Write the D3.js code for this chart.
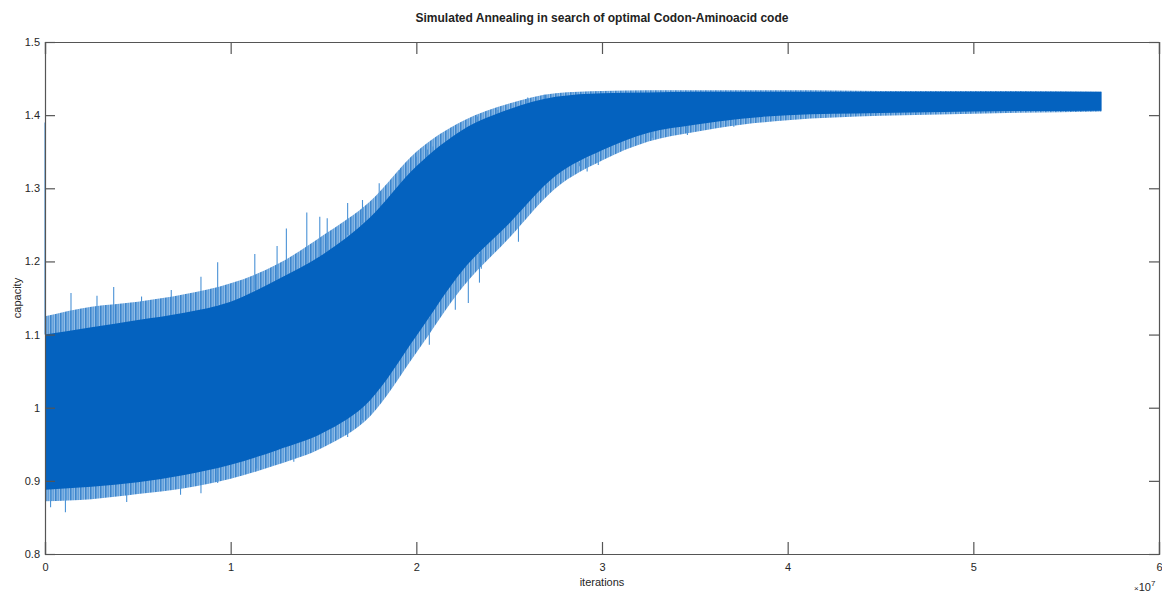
<!DOCTYPE html>
<html>
<head>
<meta charset="utf-8">
<script src="https://cdn.jsdelivr.net/npm/d3@7"></script>
<style>
  body { margin: 0; background: #fff; }
  svg { font-family: "Liberation Sans", Arial, sans-serif; }
  .axis text { fill: #262626; font-size: 11px; }
</style>
</head>
<body>
<svg id="chart" width="1162" height="594"></svg>
<script>
var iterations = [0, 0.25e7, 0.5e7, 0.75e7, 1e7, 1.25e7, 1.5e7, 1.75e7, 2e7, 2.25e7, 2.5e7,
                  2.75e7, 3e7, 3.25e7, 3.5e7, 3.75e7, 4e7, 4.5e7, 5e7, 5.69e7];
// dense body of the band
var upperBody = [1.100, 1.110, 1.120, 1.130, 1.145, 1.175, 1.210, 1.260, 1.330, 1.380, 1.408,
                 1.425, 1.430, 1.431, 1.432, 1.432, 1.432, 1.432, 1.432, 1.432];
var lowerBody = [0.888, 0.892, 0.898, 0.908, 0.922, 0.942, 0.966, 1.010, 1.098, 1.188, 1.252,
                 1.317, 1.352, 1.376, 1.387, 1.395, 1.400, 1.403, 1.405, 1.406];
// ragged fringe reached by the noise
var upperFringe = [1.125, 1.138, 1.145, 1.155, 1.170, 1.196, 1.236, 1.282, 1.350, 1.392, 1.416,
                   1.430, 1.433, 1.434, 1.434, 1.434, 1.434, 1.433, 1.433, 1.432];
var lowerFringe = [0.872, 0.875, 0.882, 0.890, 0.903, 0.922, 0.946, 0.988, 1.075, 1.165, 1.232,
                   1.300, 1.338, 1.364, 1.377, 1.387, 1.393, 1.399, 1.402, 1.405];

// single tall spikes [iteration, capacity]
var upSpikes = [[0, 1.39], [0.14e7, 1.157], [0.28e7, 1.153], [0.37e7, 1.165], [0.52e7, 1.152],
                [0.68e7, 1.161], [0.84e7, 1.179], [0.93e7, 1.199], [1.13e7, 1.210], [1.25e7, 1.221],
                [1.30e7, 1.245], [1.41e7, 1.267], [1.48e7, 1.261], [1.52e7, 1.259], [1.63e7, 1.280],
                [1.71e7, 1.284], [1.80e7, 1.307], [1.91e7, 1.325], [2.00e7, 1.343], [2.06e7, 1.353],
                [2.09e7, 1.357], [2.20e7, 1.384], [2.33e7, 1.398], [2.44e7, 1.407], [2.60e7, 1.424],
                [2.69e7, 1.428]];
var downSpikes = [[0.03e7, 0.864], [0.11e7, 0.857], [0.44e7, 0.871], [0.73e7, 0.881],
                  [0.84e7, 0.883], [0.93e7, 0.897], [1.14e7, 0.917], [1.23e7, 0.922],
                  [1.34e7, 0.926], [1.54e7, 0.952], [1.63e7, 0.960], [1.71e7, 0.983],
                  [1.86e7, 1.061], [1.91e7, 1.079], [1.97e7, 1.075], [2.07e7, 1.086],
                  [2.21e7, 1.134], [2.28e7, 1.143], [2.34e7, 1.171], [2.35e7, 1.190],
                  [2.55e7, 1.227], [2.70e7, 1.300], [2.88e7, 1.330], [2.92e7, 1.323],
                  [2.98e7, 1.332], [3.27e7, 1.369], [3.46e7, 1.373], [3.71e7, 1.384]];

var xTicks = [0, 1e7, 2e7, 3e7, 4e7, 5e7, 6e7];
var yTicks = [0.8, 0.9, 1.0, 1.1, 1.2, 1.3, 1.4, 1.5];

var svg = d3.select("#chart");
var pLeft = 45, pRight = 1159, pTop = 42, pBottom = 554;

var x = d3.scaleLinear().domain([0, 6e7]).range([pLeft, pRight]);
var y = d3.scaleLinear().domain([0.8, 1.5]).range([pBottom, pTop]);

function bodyAt(v) {
  // interpolate the band body at an iteration, used as the spike root
  var i = d3.bisectRight(iterations, v) - 1;
  i = Math.max(0, Math.min(iterations.length - 2, i));
  var t = (v - iterations[i]) / (iterations[i + 1] - iterations[i]);
  return {
    up: upperBody[i] + t * (upperBody[i + 1] - upperBody[i]),
    lo: lowerBody[i] + t * (lowerBody[i + 1] - lowerBody[i])
  };
}

var fringe = d3.area()
  .x((d, i) => x(iterations[i]))
  .y0((d, i) => y(lowerFringe[i]))
  .y1((d, i) => y(upperFringe[i]))
  .curve(d3.curveMonotoneX);

var body = d3.area()
  .x((d, i) => x(iterations[i]))
  .y0((d, i) => y(lowerBody[i]))
  .y1((d, i) => y(upperBody[i]))
  .curve(d3.curveMonotoneX);

// fine vertical hatch gives the fringe its noisy look
var defs = svg.append("defs");
var pat = defs.append("pattern")
  .attr("id", "hatch")
  .attr("patternUnits", "userSpaceOnUse")
  .attr("width", 5).attr("height", 4);
pat.append("rect").attr("width", 5).attr("height", 4).attr("fill", "#7fb3e3");
pat.append("rect").attr("x", 0).attr("width", 1.6).attr("height", 4).attr("fill", "#1a6fc4");
pat.append("rect").attr("x", 2.6).attr("width", 1.2).attr("height", 4).attr("fill", "#3a85cf");

var plot = svg.append("g");

plot.append("path")
  .datum(iterations)
  .attr("d", fringe)
  .attr("fill", "url(#hatch)")
  .attr("opacity", 0.85);

plot.selectAll(".spike-up")
  .data(upSpikes)
  .join("line")
    .attr("class", "spike-up")
    .attr("x1", d => x(d[0])).attr("x2", d => x(d[0]))
    .attr("y1", d => y(bodyAt(d[0]).up)).attr("y2", d => y(d[1]))
    .attr("stroke", "#4a92d6")
    .attr("stroke-width", 1.1);

plot.selectAll(".spike-down")
  .data(downSpikes)
  .join("line")
    .attr("class", "spike-down")
    .attr("x1", d => x(d[0])).attr("x2", d => x(d[0]))
    .attr("y1", d => y(bodyAt(d[0]).lo)).attr("y2", d => y(d[1]))
    .attr("stroke", "#4a92d6")
    .attr("stroke-width", 1.1);

plot.append("path")
  .datum(iterations)
  .attr("d", body)
  .attr("fill", "#0462bf");

// axes, MATLAB style box with inward ticks on all sides
var axisColor = "#555";
svg.append("g").attr("class", "axis").attr("transform", "translate(0," + pBottom + ")")
  .call(d3.axisBottom(x).tickValues(xTicks).tickSize(-12).tickPadding(9).tickFormat(d => d / 1e7));
svg.append("g").attr("class", "axis").attr("transform", "translate(0," + pTop + ")")
  .call(d3.axisTop(x).tickValues(xTicks).tickSize(-12).tickFormat(""));
svg.append("g").attr("class", "axis").attr("transform", "translate(" + pLeft + ",0)")
  .call(d3.axisLeft(y).tickValues(yTicks).tickSize(-10).tickPadding(5).tickFormat(d => String(+d.toFixed(1))));
svg.append("g").attr("class", "axis").attr("transform", "translate(" + pRight + ",0)")
  .call(d3.axisRight(y).tickValues(yTicks).tickSize(-10).tickFormat(""));

svg.selectAll(".axis .domain").attr("stroke", axisColor).attr("stroke-width", 1.2);
svg.selectAll(".axis .tick line").attr("stroke", axisColor).attr("stroke-width", 1.2);
svg.selectAll(".axis text").attr("font-family", "Liberation Sans, Arial, sans-serif");

// title and labels
svg.append("text")
  .attr("x", 602).attr("y", 22)
  .attr("text-anchor", "middle")
  .attr("font-size", "12px").attr("font-weight", "bold").attr("fill", "#222")
  .text("Simulated Annealing in search of optimal Codon-Aminoacid code");

svg.append("text")
  .attr("x", 602).attr("y", 586)
  .attr("text-anchor", "middle")
  .attr("font-size", "11px").attr("fill", "#262626")
  .text("iterations");

svg.append("text")
  .attr("transform", "translate(21,298) rotate(-90)")
  .attr("text-anchor", "middle")
  .attr("font-size", "11px").attr("fill", "#262626")
  .text("capacity");

var expo = svg.append("text")
  .attr("x", 1134).attr("y", 591)
  .attr("font-size", "11px").attr("fill", "#262626");
expo.append("tspan").attr("font-size", "8px").text("\u00d7");
expo.append("tspan").text("10");
expo.append("tspan").attr("font-size", "8px").attr("dy", -5).text("7");
</script>
</body>
</html>
